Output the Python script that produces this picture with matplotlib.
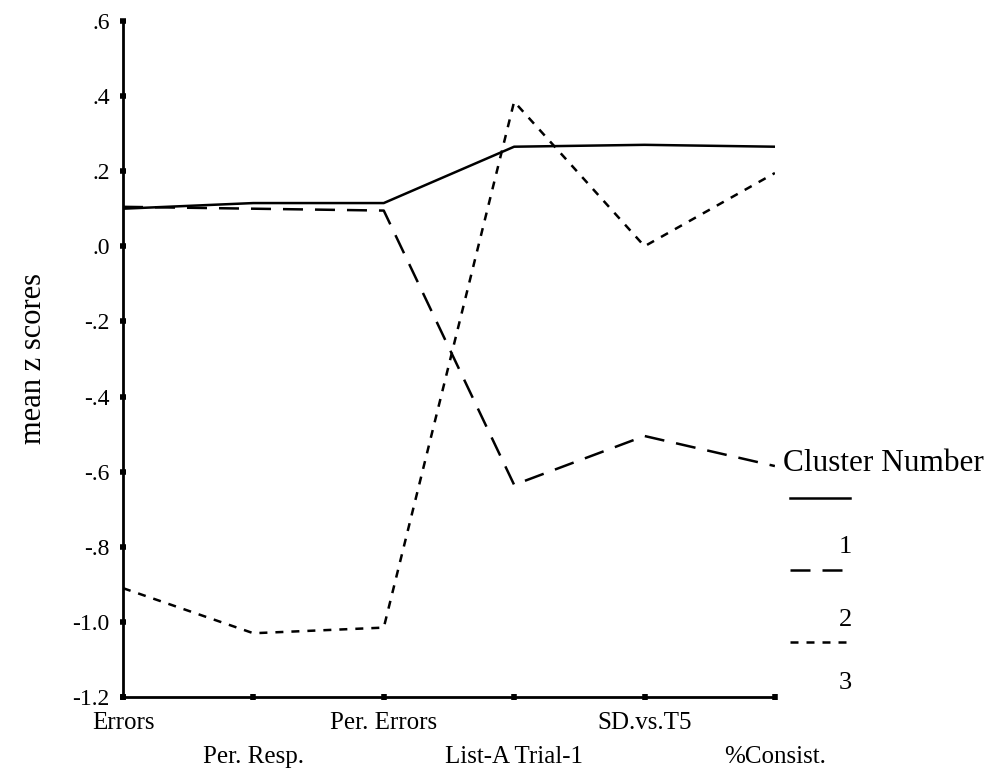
import matplotlib
matplotlib.use("Agg")
import matplotlib.pyplot as plt

# values
variables = ['Errors', 'Per. Resp.', 'Per. Errors', 'List-A Trial-1', 'SD.vs.T5', '%Consist.']
cluster_1 = [0.10, 0.115, 0.115, 0.265, 0.27, 0.265]
cluster_2 = [0.105, 0.10, 0.095, -0.635, -0.505, -0.585]
cluster_3 = [-0.91, -1.03, -1.015, 0.385, 0.00, 0.195]
cluster_names = ['1', '2', '3']
y_ticks = [-1.2, -1.0, -0.8, -0.6, -0.4, -0.2, 0.0, 0.2, 0.4, 0.6]

plt.rcParams['font.family'] = ['Liberation Serif', 'DejaVu Serif']

fig = plt.figure(figsize=(9.96, 7.72), dpi=100)
ax = fig.add_axes([0.1235, 0.097, 0.6545, 0.876])

styles = [
    dict(linestyle='-'),
    dict(linestyle=(0, (8, 4.8))),
    dict(linestyle=(0, (3.2, 3.2))),
]
series = [cluster_1, cluster_2, cluster_3]
x = list(range(len(variables)))
for vals, st in zip(series, styles):
    ax.plot(x, vals, color='black', linewidth=1.8, **st)

ax.set_xlim(0, len(variables) - 1)
ax.set_ylim(-1.2, 0.6)
ax.set_yticks(y_ticks)


def fmt(v):
    s = '%.1f' % v
    return s.replace('0.', '.')


ax.set_yticklabels([fmt(v) for v in y_ticks], fontsize=17)
ax.set_xticks(x)
ax.set_xticklabels([v if i % 2 == 0 else '\n' + v for i, v in enumerate(variables)], fontsize=18,
                   linespacing=1.72)
ax.tick_params(direction='inout', length=5, width=4)
ax.tick_params(axis='y', pad=7)
ax.tick_params(axis='x', pad=8)

for side in ['top', 'right']:
    ax.spines[side].set_visible(False)
for side in ['left', 'bottom']:
    ax.spines[side].set_linewidth(2)

ax.set_ylabel('mean z scores', fontsize=22, labelpad=18)

# legend: line above the cluster number
ax.text(1.013, 0.346, 'Cluster Number', transform=ax.transAxes, fontsize=22.5,
        va='center', ha='left')
leg_line_y = [0.294, 0.188, 0.081]
leg_text_y = [0.222, 0.114, 0.021]
for st, ly, ty, name in zip(styles, leg_line_y, leg_text_y, cluster_names):
    ax.plot([1.023, 1.115], [ly, ly], transform=ax.transAxes, color='black',
            linewidth=1.8, clip_on=False, **st)
    ax.text(1.118, ty, name, transform=ax.transAxes, fontsize=19, ha='right', va='center')

fig.savefig('out.png', dpi=100)
